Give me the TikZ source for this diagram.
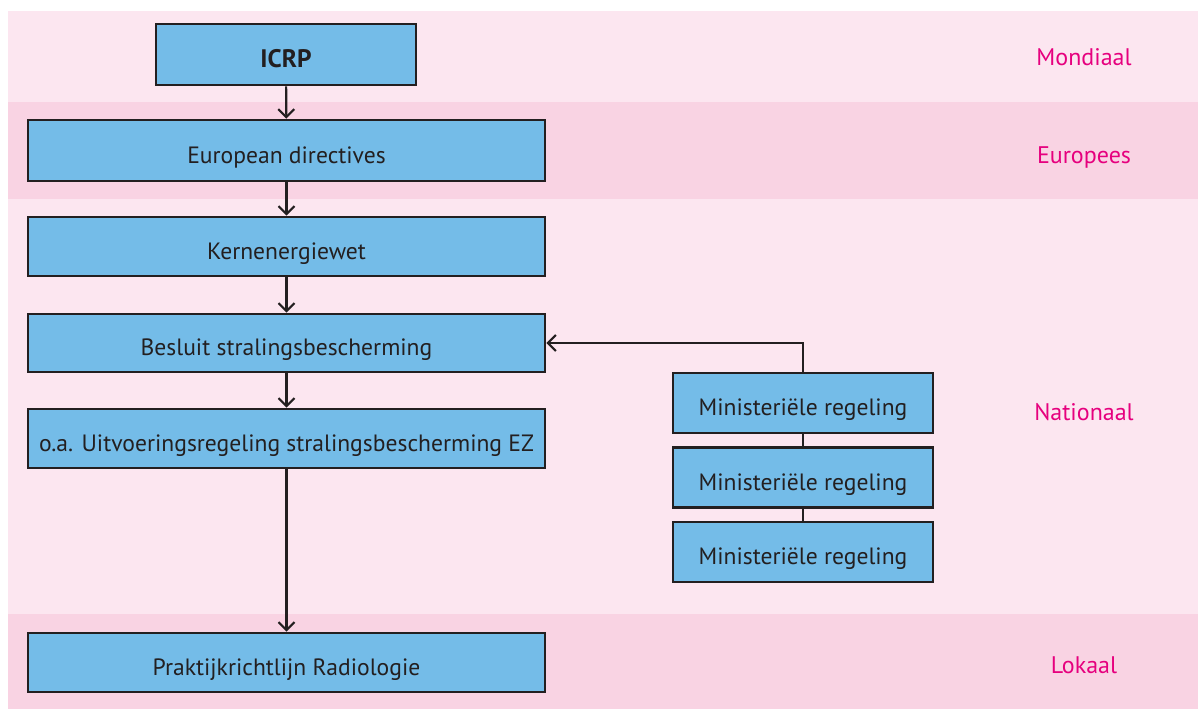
\documentclass[tikz,border=0pt]{standalone}
\usepackage{fontspec}
\setmainfont{PT Sans}
\usetikzlibrary{arrows.meta}
\definecolor{boxblue}{HTML}{74BCE8}
\definecolor{bandlight}{HTML}{FCE6F0}
\definecolor{banddark}{HTML}{F9D3E3}
\definecolor{labelpink}{HTML}{E6007E}
\definecolor{ink}{HTML}{231F20}
\begin{document}
\begin{tikzpicture}[x=0.75pt,y=-0.75pt,
  box/.style={draw=ink,line width=2pt,fill=boxblue,inner sep=0pt,font=\fontsize{17.7}{20}\selectfont,text=ink,text height=18.8pt,text depth=0pt},
  level/.style={text=labelpink,font=\fontsize{18}{20}\selectfont,text height=12.5pt,text depth=0pt},
  flow/.style={draw=ink,line width=1.6pt,-{Straight Barb[length=6pt,width=12pt,line width=1.6pt]}},
  link/.style={draw=ink,line width=1.6pt}]
\useasboundingbox (0,0) rectangle (1198,709);
\fill[white] (0,0) rectangle (1198,709);
\fill[bandlight] (8,11) rectangle (1198,102);
\fill[banddark] (8,102) rectangle (1198,199);
\fill[bandlight] (8,199) rectangle (1198,614);
\fill[banddark] (8,614) rectangle (1198,709);
\node[box,minimum width=260*0.75pt,minimum height=61*0.75pt] (icrp) at (286,54.5) {\fontsize{19}{20}\selectfont\textbf{ICRP}};
\node[box,minimum width=517*0.75pt,minimum height=61*0.75pt] (eu) at (286.5,150.5) {European directives};
\node[box,minimum width=517*0.75pt,minimum height=59*0.75pt] (kew) at (286.5,246.5) {Kernenergiewet};
\node[box,minimum width=517*0.75pt,minimum height=58*0.75pt] (bs) at (286.5,343) {Besluit stralingsbescherming};
\node[box,minimum width=517*0.75pt,minimum height=59*0.75pt] (ur) at (286.5,438.5) {o.a. Uitvoeringsregeling stralingsbescherming EZ};
\node[box,minimum width=517*0.75pt,minimum height=59*0.75pt] (pr) at (286.5,662.5) {Praktijkrichtlijn Radiologie};
\node[box,minimum width=260*0.75pt,minimum height=60*0.75pt] (m1) at (803,403) {Ministeriële regeling};
\node[box,minimum width=260*0.75pt,minimum height=60*0.75pt] (m2) at (803,477.5) {Ministeriële regeling};
\node[box,minimum width=260*0.75pt,minimum height=60*0.75pt] (m3) at (803,552) {Ministeriële regeling};
\node[level] (l1) at (1084,57) {Mondiaal};
\node[level] (l2) at (1084,155) {Europees};
\node[level] (l3) at (1084,412) {Nationaal};
\node[level] (l4) at (1084,665) {Lokaal};
\draw[flow] (icrp) -- (eu);
\draw[flow] (eu) -- (kew);
\draw[flow] (kew) -- (bs);
\draw[flow] (bs) -- (ur);
\draw[flow] (ur) -- (pr);
\draw[flow] (m1.north) |- (bs.east);
\draw[link] (m1) -- (m2);
\draw[link] (m2) -- (m3);
\end{tikzpicture}
\end{document}
